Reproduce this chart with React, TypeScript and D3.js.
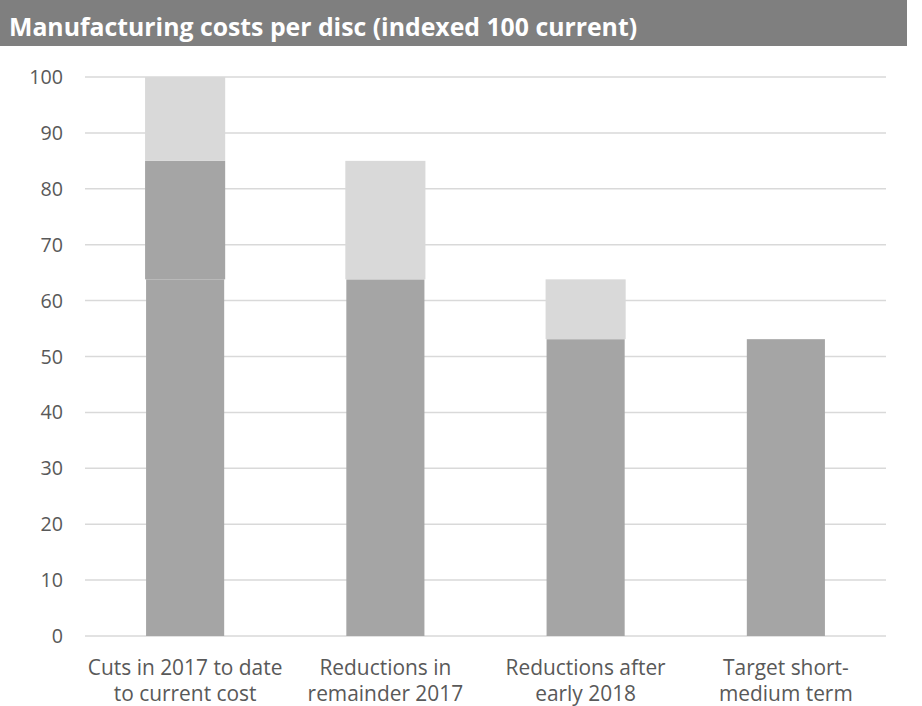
import React from "react";
import * as d3 from "d3";

const categories = [
  ["Cuts in 2017 to date", "to current cost"],
  ["Reductions in", "remainder 2017"],
  ["Reductions after", "early 2018"],
  ["Target short-", "medium term"],
];
const baseCost = [63.8, 63.8, 53.1, 53.1];
const cutsToDate = [21.2, 0, 0, 0];
const reductions = [15, 21.2, 10.7, 0];
const yTicks = [0, 10, 20, 30, 40, 50, 60, 70, 80, 90, 100];
const title = "Manufacturing costs per disc (indexed 100 current)";

const W = 922;
const H = 706;
const FONT = "'Open Sans', sans-serif";

export default function App() {
  const x = d3
    .scaleBand<number>()
    .domain(categories.map((_, i) => i))
    .range([85, 886])
    .paddingInner(0.6)
    .paddingOuter(0.3);
  const y = d3.scaleLinear().domain([0, 100]).range([636, 77]);
  const bw = x.bandwidth();

  return (
    <svg
      width={W}
      height={H}
      style={{ position: "absolute", left: 0, top: 0, background: "#fff" }}
      fontFamily={FONT}
    >
      <rect x={0} y={0} width={907} height={46} fill="#7f7f7f" />
      <text x={9} y={36} fill="#fff" fontWeight={700} fontSize={24.8}>
        {title}
      </text>
      {yTicks.map((t) => (
        <g key={t}>
          <line x1={85} x2={886} y1={y(t)} y2={y(t)} stroke="#d9d9d9" strokeWidth={1.5} />
          <text
            x={63}
            y={y(t)}
            dy="0.36em"
            textAnchor="end"
            fontSize={19.7}
            fill="#595959"
          >
            {t}
          </text>
        </g>
      ))}
      {categories.map((c, i) => {
        const x0 = x(i)!;
        const b = baseCost[i];
        const c2 = b + cutsToDate[i];
        const r = c2 + reductions[i];
        return (
          <g key={i}>
            <rect x={x0 + 1} width={bw - 2} y={y(b)} height={y(0) - y(b)} fill="#a5a5a5" />
            {cutsToDate[i] > 0 && (
              <rect x={x0} width={bw} y={y(c2)} height={y(b) - y(c2)} fill="#a5a5a5" />
            )}
            {reductions[i] > 0 && (
              <rect x={x0} width={bw} y={y(r)} height={y(c2) - y(r)} fill="#d9d9d9" />
            )}
            <text
              x={x0 + bw / 2}
              y={674.5}
              textAnchor="middle"
              fontSize={20.9}
              fill="#595959"
            >
              <tspan x={x0 + bw / 2}>{c[0]}</tspan>
              <tspan x={x0 + bw / 2} dy={26}>
                {c[1]}
              </tspan>
            </text>
          </g>
        );
      })}
    </svg>
  );
}
